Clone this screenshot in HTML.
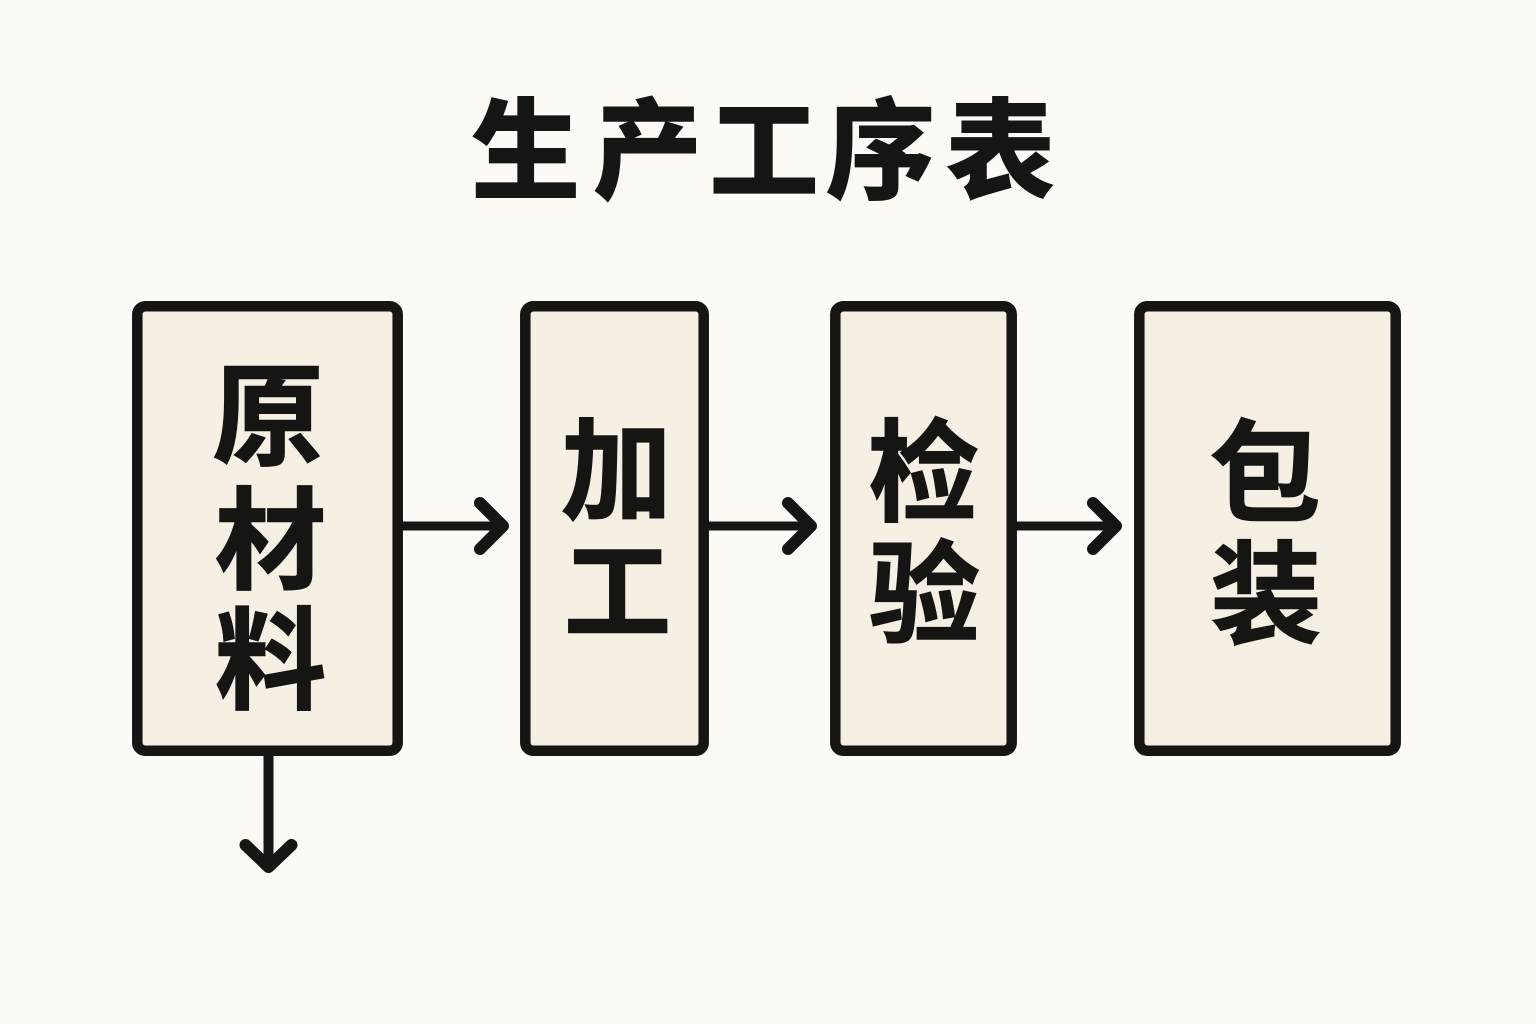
<!DOCTYPE html>
<html lang="zh">
<head>
<meta charset="utf-8">
<style>
html,body{margin:0;padding:0;background:#fdfaf5;}
svg{display:block;}
text{font-family:"Liberation Sans","Noto Sans CJK SC",sans-serif;fill:#151513;text-anchor:middle;}
.t{font-weight:900;font-size:110px;}
.n{font-weight:700;font-size:111px;stroke:#151513;stroke-width:1.5;}
.b{fill:#f5efe4;stroke:#151513;stroke-width:10.5;}
.l{fill:none;stroke:#151513;stroke-width:9;}
.d{fill:none;stroke:#151513;stroke-width:10;}
.a{fill:none;stroke:#151513;stroke-width:12;stroke-linecap:round;stroke-linejoin:round;}
</style>
</head>
<body>
<svg width="1536" height="1024" viewBox="0 0 1536 1024" xmlns="http://www.w3.org/2000/svg">
<rect width="1536" height="1024" fill="#fdfaf5"/>
<text class="t" x="525.5" y="190.5">生</text>
<text class="t" x="647.5" y="190.5">产</text>
<text class="t" x="764" y="190.5">工</text>
<text class="t" x="880.5" y="190.5">序</text>
<text class="t" x="1000.5" y="190.5">表</text>
<rect class="b" x="137.3" y="306.3" width="260.4" height="444.4" rx="8"/>
<rect class="b" x="525.3" y="306.3" width="178.4" height="444.4" rx="8"/>
<rect class="b" x="835.3" y="306.3" width="176.4" height="444.4" rx="8"/>
<rect class="b" x="1139.3" y="306.3" width="256.4" height="444.4" rx="8"/>
<text class="n" x="268" y="456">原</text>
<text class="n" x="270.5" y="580">材</text>
<text class="n" x="270.5" y="700">料</text>
<text class="n" x="616.5" y="510.5">加</text>
<text class="n" x="617.5" y="630" style="font-size:107px">工</text>
<text class="n" x="923.5" y="512">检</text>
<text class="n" x="924.5" y="633.5">验</text>
<text class="n" x="1265" y="512.5">包</text>
<text class="n" x="1266" y="634">装</text>
<path class="l" d="M402 526H500"/>
<path class="a" d="M480 503L503 526L480 549"/>
<path class="l" d="M708 526H808"/>
<path class="a" d="M788 503L811 526L788 549"/>
<path class="l" d="M1016 526H1113"/>
<path class="a" d="M1093 503L1116 526L1093 549"/>
<path class="d" d="M268.5 755V864"/>
<path class="a" d="M245.5 845L268.5 867L291.5 845"/>
</svg>
</body>
</html>
